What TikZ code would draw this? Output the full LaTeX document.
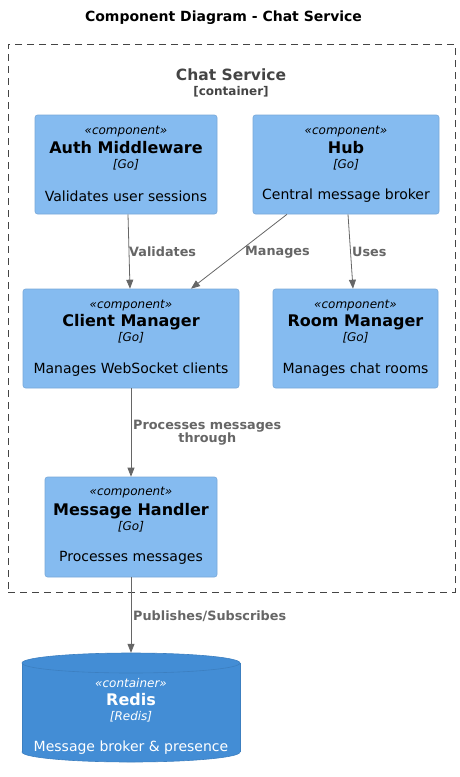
\documentclass[tikz,border=0pt]{standalone}
\usepackage{fontspec}
\setmainfont{DejaVu Sans}
\usetikzlibrary{arrows.meta,calc}
\definecolor{compfill}{HTML}{85BBF0}
\definecolor{compdraw}{HTML}{78A8D8}
\definecolor{dbfill}{HTML}{438DD5}
\definecolor{dbdraw}{HTML}{3C7FC0}
\definecolor{relcol}{HTML}{666666}
\definecolor{framecol}{HTML}{444444}
\begin{document}
\begin{tikzpicture}[x=1pt,y=-1pt,
  comp/.style={draw=compdraw,fill=compfill,rounded corners=2.5pt,inner sep=0pt,line width=0.6pt},
  stereo/.style={font=\fontsize{12}{14}\selectfont\itshape,inner sep=0pt},
  ctitle/.style={font=\fontsize{16}{19}\selectfont\bfseries,inner sep=0pt},
  tech/.style={font=\fontsize{12}{14}\selectfont\itshape,inner sep=0pt},
  desc/.style={font=\fontsize{14}{17}\selectfont,inner sep=0pt},
  rel/.style={draw=relcol,-{Triangle[length=9pt,width=7pt]},line width=0.8pt},
  rellabel/.style={font=\fontsize{12.8}{13.2}\selectfont\bfseries,text=relcol,inner sep=0pt,anchor=west,align=center}]
\useasboundingbox (0,0) rectangle (460,777);

% title
\node[font=\fontsize{14}{17}\selectfont\bfseries,inner sep=0pt] (title) at (223.5,18) {Component Diagram - Chat Service};

% frame
\node[draw=framecol,dash pattern=on 7pt off 5pt,line width=0.8pt,minimum width=447pt,minimum height=548pt,inner sep=0pt] (frame) at (231.5,318) {};
\node[font=\fontsize{15.5}{18}\selectfont\bfseries,text=framecol,inner sep=0pt] (fname) at (231,75) {Chat Service};
\node[font=\fontsize{12}{14}\selectfont\bfseries,text=framecol,inner sep=0pt] (ftype) at (231,92) {[container]};

% components
\node[comp,minimum width=182pt,minimum height=99pt] (auth) at (126,164.5) {};
\node[stereo] (authS) at (126,132) {«component»};
\node[ctitle] (authT) at (126,148) {Auth Middleware};
\node[tech] (authG) at (126,165) {[Go]};
\node[desc] (authD) at (126,196) {Validates user sessions};

\node[comp,minimum width=186pt,minimum height=99pt] (hub) at (346,164.5) {};
\node[stereo] (hubS) at (346,132) {«component»};
\node[ctitle] (hubT) at (346,148) {Hub};
\node[tech] (hubG) at (346,165) {[Go]};
\node[desc] (hubD) at (346,196) {Central message broker};

\node[comp,minimum width=216pt,minimum height=99pt] (client) at (131,338.5) {};
\node[stereo] (clientS) at (131,306) {«component»};
\node[ctitle] (clientT) at (131,322) {Client Manager};
\node[tech] (clientG) at (131,338) {[Go]};
\node[desc] (clientD) at (131,370) {Manages WebSocket clients};

\node[comp,minimum width=165pt,minimum height=99pt] (room) at (355.5,338.5) {};
\node[stereo] (roomS) at (355.5,306) {«component»};
\node[ctitle] (roomT) at (355.5,322) {Room Manager};
\node[tech] (roomG) at (355.5,338) {[Go]};
\node[desc] (roomD) at (355.5,370) {Manages chat rooms};

\node[comp,minimum width=172pt,minimum height=100pt] (mh) at (131,527) {};
\node[stereo] (mhS) at (131,493) {«component»};
\node[ctitle] (mhT) at (131,511) {Message Handler};
\node[tech] (mhG) at (131,527) {[Go]};
\node[desc] (mhD) at (131,558) {Processes messages};

% redis cylinder
\fill[dbfill,draw=dbdraw,line width=0.6pt] (131,752) ellipse [x radius=109, y radius=10];
\fill[dbfill] (22,663) rectangle (240,752);
\draw[dbdraw,line width=0.6pt] (22,663) -- (22,752) (240,663) -- (240,752);
\fill[dbfill,draw=dbdraw,line width=0.6pt] (131,663) ellipse [x radius=109, y radius=10];
\node[minimum width=218pt,minimum height=109pt,inner sep=0pt] (redis) at (131,707.5) {};
\node[stereo,text=white] (redisS) at (131,683) {«container»};
\node[ctitle,text=white] (redisT) at (131,700) {Redis};
\node[tech,text=white] (redisG) at (131,717) {[Redis]};
\node[desc,text=white] (redisD) at (131,748) {Message broker \& presence};

% relations
\draw[rel] ([xshift=2pt]auth.south) -- ([xshift=-1pt]client.north);
\draw[rel] ([xshift=-59pt]hub.south) -- ([xshift=60pt]client.north);
\draw[rel] ([xshift=2pt]hub.south) -- ([xshift=-2.5pt]room.north);
\draw[rel] (client.south) -- (mh.north);
\draw[rel] (mh.south) -- (redis.north);

\node[rellabel] (l1) at (129,252) {Validates};
\node[rellabel] (l2) at (245,252) {Manages};
\node[rellabel] (l3) at (352,252) {Uses};
\node[rellabel] (l4) at (133,433) {Processes messages\\through};
\node[rellabel] (l5) at (133,616) {Publishes/Subscribes};
\end{tikzpicture}
\end{document}
